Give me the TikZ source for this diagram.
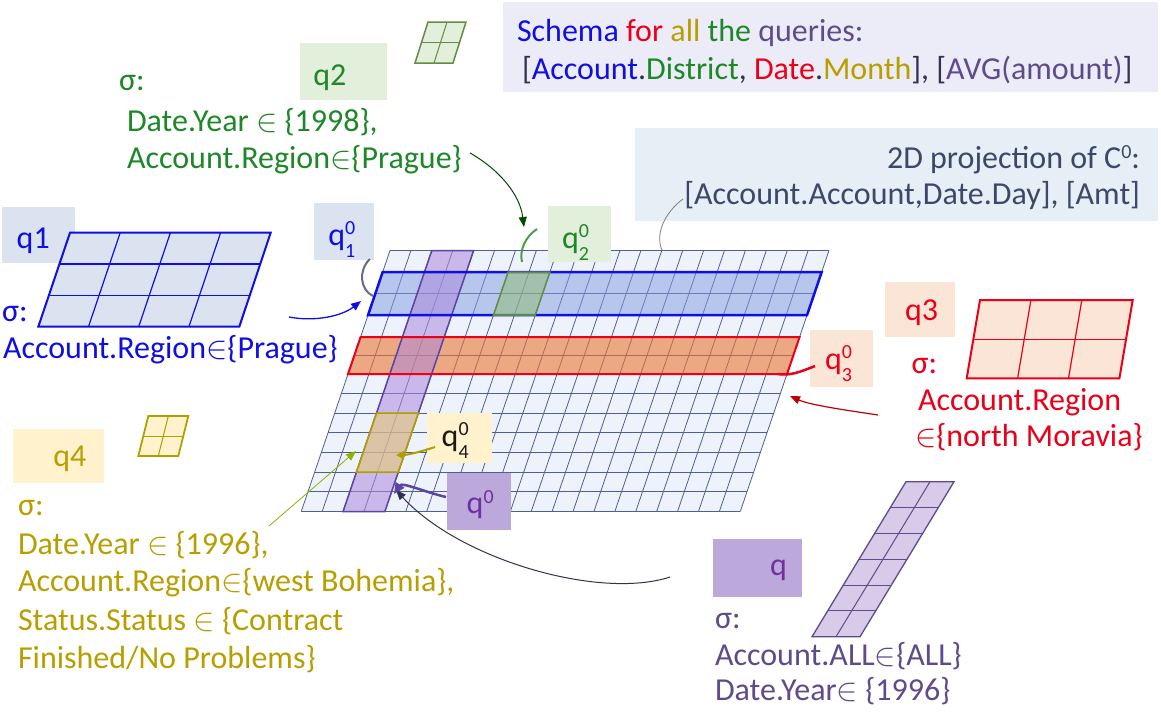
\RequirePackage{fix-cm}
\documentclass[tikz,border=0pt]{standalone}
\usepackage{fontspec}
\setmainfont{Carlito}
\usetikzlibrary{arrows.meta}
\definecolor{cblue}{RGB}{15,15,225}
\definecolor{cgreen}{RGB}{30,135,40}
\definecolor{cred}{RGB}{235,0,25}
\definecolor{cgold}{RGB}{185,158,0}
\definecolor{cpurp}{RGB}{95,75,140}
\definecolor{cviolet}{RGB}{112,48,160}
\definecolor{cdark}{RGB}{50,50,80}
\definecolor{cslate}{RGB}{60,72,105}
\definecolor{fqa}{RGB}{220,227,240}
\definecolor{fqb}{RGB}{226,239,218}
\definecolor{fqc}{RGB}{251,229,214}
\definecolor{fqd}{RGB}{255,242,204}
\definecolor{fqe}{RGB}{188,168,218}
\definecolor{fschema}{RGB}{236,236,248}
\definecolor{fproj}{RGB}{230,238,246}
\definecolor{gridc}{RGB}{80,95,145}
\definecolor{gridf}{RGB}{238,243,251}
\definecolor{bandblue}{RGB}{130,155,225}
\definecolor{bandred}{RGB}{235,118,50}
\definecolor{bandpurp}{RGB}{172,137,219}
\definecolor{bandgreen}{RGB}{140,190,110}
\definecolor{bandyel}{RGB}{235,205,110}
\definecolor{purpline}{RGB}{90,70,160}
\definecolor{greenline}{RGB}{100,140,70}
\definecolor{olive}{RGB}{175,160,0}
\newcommand{\el}{$\in$}
\newcommand{\supz}{\raisebox{10pt}{\fontsize{20}{20}\selectfont 0}}
\newcommand{\qsb}[1]{q\raisebox{-12pt}{\fontsize{20}{23}\selectfont\begin{tabular}[b]{@{}l@{}}0\\#1\end{tabular}}}
\newcommand{\qz}{q\supz}
\begin{document}
\begin{tikzpicture}[x=1pt,y=-1pt,
  every node/.style={inner sep=0pt,outer sep=0pt,font=\fontsize{32}{38}\selectfont},
  txt/.style={anchor=base west},
  lbox/.style={anchor=north west,draw=none},
  gridline/.style={draw=gridc,line width=0.8pt},
  arrowhd/.style={-{Triangle[length=10pt,width=8pt]}}]
\useasboundingbox (0,0) rectangle (1161,716);
\fill[white] (0,0) rectangle (1161,716);

% ---------- header boxes ----------
\node[lbox,fill=fschema,minimum width=655pt,minimum height=90pt] (schema) at (503,2) {};
\node[txt] (schemaA) at (517,41) {{\color{cblue}Schema} {\color{cred}for} {\color{cgold}all} {\color{cgreen}the} {\color{cpurp}queries:}};
\node[txt] (schemaB) at (522,79) {{\color{cdark}[}{\color{cblue}Account}{\color{cdark}.}{\color{cgreen}District}{\color{cdark}, }{\color{cred}Date}{\color{cdark}.}{\color{cgold}Month}{\color{cdark}], [}{\color{cpurp}AVG(amount)}{\color{cdark}]}};

\node[lbox,fill=fproj,minimum width=523pt,minimum height=93pt] (proj) at (635,128) {};
\node[anchor=base east,text=cslate] (projA) at (1140,168) {2D projection of C\raisebox{10pt}{\fontsize{20}{20}\selectfont 0}:};
\node[anchor=base east,text=cslate] (projB) at (1140,204) {[Account.Account,Date.Day], [Amt]};

% ---------- main grid ----------
\fill[gridf] (390,250.5) -- (829,250.5) -- (740.26,511.5) -- (301.26,511.5) -- cycle;
\foreach \c in {0,...,21} {
  \draw[gridline] ({390+\c*20.9048},250.5) -- ({390+\c*20.9048-88.74},511.5);
}
\foreach \yy in {250.5,272,293.5,315,337,355.5,374,393.5,413,432.5,452,472,491.5,511.5} {
  \draw[gridline] ({390-0.34*(\yy-250.5)},\yy) -- ({829-0.34*(\yy-250.5)},\yy);
}
% blue band q1^0
\fill[bandblue,opacity=0.5] (382.69,272) -- (821.69,272) -- (807.07,315) -- (368.07,315) -- cycle;
% red band q3^0
\fill[bandred,opacity=0.6] (360.59,337) -- (799.59,337) -- (787.01,374) -- (348.01,374) -- cycle;
% purple band q^0
\fill[bandpurp,opacity=0.55] (431.81,250.5) -- (473.62,250.5) -- (384.88,511.5) -- (343.07,511.5) -- cycle;
\draw[purpline,line width=1.5pt] (431.81,250.5) -- (473.62,250.5) -- (384.88,511.5) -- (343.07,511.5) -- cycle;
\draw[cblue,line width=2.5pt] (382.69,272) -- (821.69,272) -- (807.07,315) -- (368.07,315) -- cycle;
\draw[cred,line width=2pt] (360.59,337) -- (799.59,337) -- (787.01,374) -- (348.01,374) -- cycle;
% green box q2^0
\fill[bandgreen,opacity=0.5] (508.12,272) -- (549.93,272) -- (535.31,315) -- (493.5,315) -- cycle;
\draw[greenline,line width=1.5pt] (508.12,272) -- (549.93,272) -- (535.31,315) -- (493.5,315) -- cycle;
% yellow box q4^0
\fill[bandyel,opacity=0.55] (376.56,413) -- (418.37,413) -- (398.31,472) -- (356.5,472) -- cycle;
\draw[olive,line width=1.5pt] (376.56,413) -- (418.37,413) -- (398.31,472) -- (356.5,472) -- cycle;

% ---------- q1 ----------
\node[lbox,fill=fqa,minimum width=73pt,minimum height=56pt] (q1box) at (2,207) {};
\node[txt,text=cblue] (q1txt) at (16.7,248) {q1};
\fill[fqa] (70,232.7) -- (270.7,232.7) -- (239.3,326.7) -- (38.3,326.7) -- cycle;
\foreach \i in {1,2,3} { \draw[cblue,line width=1.2pt] ({70+\i*50.2},232.7) -- ({38.3+\i*50.2},326.7); }
\foreach \j in {1,2} { \draw[cblue,line width=1.2pt] ({70-31.7*\j/3},{232.7+94*\j/3}) -- ({270.7-31.7*\j/3},{232.7+94*\j/3}); }
\draw[cblue,line width=2pt] (70,232.7) -- (270.7,232.7) -- (239.3,326.7) -- (38.3,326.7) -- cycle;
\node[txt,text=cblue] (q1sig) at (2,321.7) {σ:};
\node[txt,text=cblue] (q1c) at (3,358.3) {Account.Region\el\{Prague\}};
\node[lbox,fill=fqa,minimum width=60pt,minimum height=57pt] (q10box) at (314,203) {};
\node[txt,text=cblue] (q10txt) at (328.3,245) {\qsb{1}};

% ---------- q2 ----------
\node[lbox,fill=fqb,minimum width=86.7pt,minimum height=56.7pt] (q2box) at (300,43.3) {};
\node[txt,text=cgreen] (q2txt) at (313.3,85) {q2};
\fill[fqb] (428,22) -- (466,22) -- (453,63) -- (415,63) -- cycle;
\draw[greenline,line width=1pt] (447,22) -- (434,63);
\draw[greenline,line width=1pt] (421.5,42.5) -- (459.5,42.5);
\draw[greenline,line width=1.5pt] (428,22) -- (466,22) -- (453,63) -- (415,63) -- cycle;
\node[txt,text=cgreen] (q2sig) at (119,90.7) {σ:};
\node[txt,text=cgreen] (q2c1) at (127,131.7) {Date.Year \el{} \{1998\},};
\node[txt,text=cgreen] (q2c2) at (127,168.3) {Account.Region\el\{Prague\}};
\node[lbox,fill=fqb,minimum width=63pt,minimum height=56pt] (q20box) at (548,206) {};
\node[txt,text=cgreen] (q20txt) at (562,248) {\qsb{2}};

% ---------- q3 ----------
\node[lbox,fill=fqc,minimum width=70pt,minimum height=55pt] (q3box) at (885,281.7) {};
\node[txt,text=cred] (q3txt) at (905,320) {q3};
\fill[fqc] (980,300) -- (1132.7,300) -- (1119.4,378.3) -- (966.7,378.3) -- cycle;
\foreach \i in {1,2} { \draw[cred,line width=1.2pt] ({980+\i*50.9},300) -- ({966.7+\i*50.9},378.3); }
\draw[cred,line width=1.2pt] (973.35,339.15) -- (1126.05,339.15);
\draw[cred,line width=2pt] (980,300) -- (1132.7,300) -- (1119.4,378.3) -- (966.7,378.3) -- cycle;
\node[txt,text=cred] (q3sig) at (911.7,373.3) {σ:};
\node[txt,text=cred] (q3c1) at (918,410) {Account.Region};
\node[txt,text=cred] (q3c2) at (915,446.7) {\el\{north Moravia\}};
\node[lbox,fill=fqc,minimum width=63.3pt,minimum height=56.7pt] (q30box) at (810,330) {};
\node[txt,text=cred] (q30txt) at (825,369) {\qsb{3}};

% ---------- q4 ----------
\node[lbox,fill=fqd,minimum width=90.7pt,minimum height=53.4pt] (q4box) at (13.3,429.3) {};
\node[txt,text=cgold] (q4txt) at (53.3,466.7) {q4};
\fill[fqd] (148.3,416) -- (188.3,416) -- (178.3,456) -- (138.3,456) -- cycle;
\draw[olive,line width=1pt] (168.3,416) -- (158.3,456);
\draw[olive,line width=1pt] (143.3,436) -- (183.3,436);
\draw[olive,line width=1.8pt] (148.3,416) -- (188.3,416) -- (178.3,456) -- (138.3,456) -- cycle;
\node[txt,text=cgold] (q4sig) at (18,515) {σ:};
\node[txt,text=cgold] (q4c1) at (18,554) {Date.Year \el{} \{1996\},};
\node[txt,text=cgold] (q4c2) at (18,591.7) {Account.Region\el\{west Bohemia\},};
\node[txt,text=cgold] (q4c3) at (18,630) {Status.Status \el{} \{Contract};
\node[txt,text=cgold] (q4c4) at (18,668.3) {Finished/No Problems\}};
\node[lbox,fill=fqd,minimum width=65pt,minimum height=50pt] (q40box) at (426.7,413.3) {};
\node[txt,text=black!90] (q40txt) at (441.7,446.7) {\qsb{4}};

% ---------- q ----------
\node[lbox,fill=fqe,minimum width=88.4pt,minimum height=57.4pt] (qbox) at (713.3,539.3) {};
\node[txt,text=cviolet] (qtxt) at (770,575) {q};
\fill[fqe!60] (906,481.7) -- (954,481.7) -- (860,636.7) -- (812,636.7) -- cycle;
\draw[cpurp,line width=1pt] (930,481.7) -- (836,636.7);
\foreach \j in {1,...,5} { \draw[cpurp,line width=1pt] ({906-94*\j/6},{481.7+155*\j/6}) -- ({954-94*\j/6},{481.7+155*\j/6}); }
\draw[cpurp,line width=1.3pt] (906,481.7) -- (954,481.7) -- (860,636.7) -- (812,636.7) -- cycle;
\node[txt,text=cpurp] (qsig) at (715,628.3) {σ:};
\node[txt,text=cpurp] (qc1) at (715,665) {Account.ALL\el\{ALL\}};
\node[txt,text=cpurp] (qc2) at (715,700) {Date.Year\el{} \{1996\}};
\node[lbox,fill=fqe,minimum width=64pt,minimum height=56.7pt] (q0box) at (446.7,473.3) {};
\node[txt,text=cviolet] (q0txt) at (466.7,513.3) {\qz};

% ---------- connectors ----------
\coordinate (a1s) at (289,317); \coordinate (a1e) at (361,301);
\draw[cblue,line width=1.3pt,arrowhd] (a1s) .. controls (315,322) and (342,316) .. (a1e);
\coordinate (a2s) at (470,153); \coordinate (a2e) at (524,227);
\draw[black!50!green!60!black,line width=1pt,arrowhd] (a2s) .. controls (500,170) and (520,195) .. (a2e);
\coordinate (a3s) at (878,415); \coordinate (a3e) at (790,396);
\draw[red!75!black,line width=1.2pt,arrowhd] (a3s) .. controls (845,410) and (810,405) .. (a3e);
\coordinate (a4s) at (269,526); \coordinate (a4e) at (356,451);
\draw[olive!80!green,line width=0.8pt,arrowhd] (a4s) -- (a4e);
\coordinate (a5s) at (670,577); \coordinate (a5e) at (396,490);
\draw[cdark,line width=1pt,arrowhd] (a5s) .. controls (600,600) and (460,560) .. (a5e);
\coordinate (a6s) at (446,497); \coordinate (a6e) at (394,494);
\draw[purpline,line width=2.5pt,-{Triangle[length=11pt,width=10pt]}] (a6s) .. controls (425,492) and (402,482) .. (a6e);
\coordinate (a7s) at (435,447); \coordinate (a7e) at (396,455);
\draw[olive,line width=2pt,-{Triangle[length=8pt,width=8pt]}] (a7s) .. controls (420,452) and (407,455) .. (a7e);
\coordinate (a8s) at (815,366); \coordinate (a8e) at (778,374);
\draw[cred,line width=2.5pt] (a8s) .. controls (800,372) and (790,376) .. (a8e);
\coordinate (a9s) at (370,259); \coordinate (a9e) at (373,296);
\draw[cslate!80,line width=2pt] (a9s) .. controls (358,270) and (360,290) .. (a9e);
\coordinate (a10s) at (537,229); \coordinate (a10e) at (522,262);
\draw[green!45!black!70!white,line width=2pt] (a10s) .. controls (526,236) and (519,250) .. (a10e);
\coordinate (a11s) at (683,199); \coordinate (a11e) at (662,250);
\draw[gray,line width=0.8pt] (a11s) .. controls (664,213) and (655,235) .. (a11e);
\end{tikzpicture}
\end{document}
